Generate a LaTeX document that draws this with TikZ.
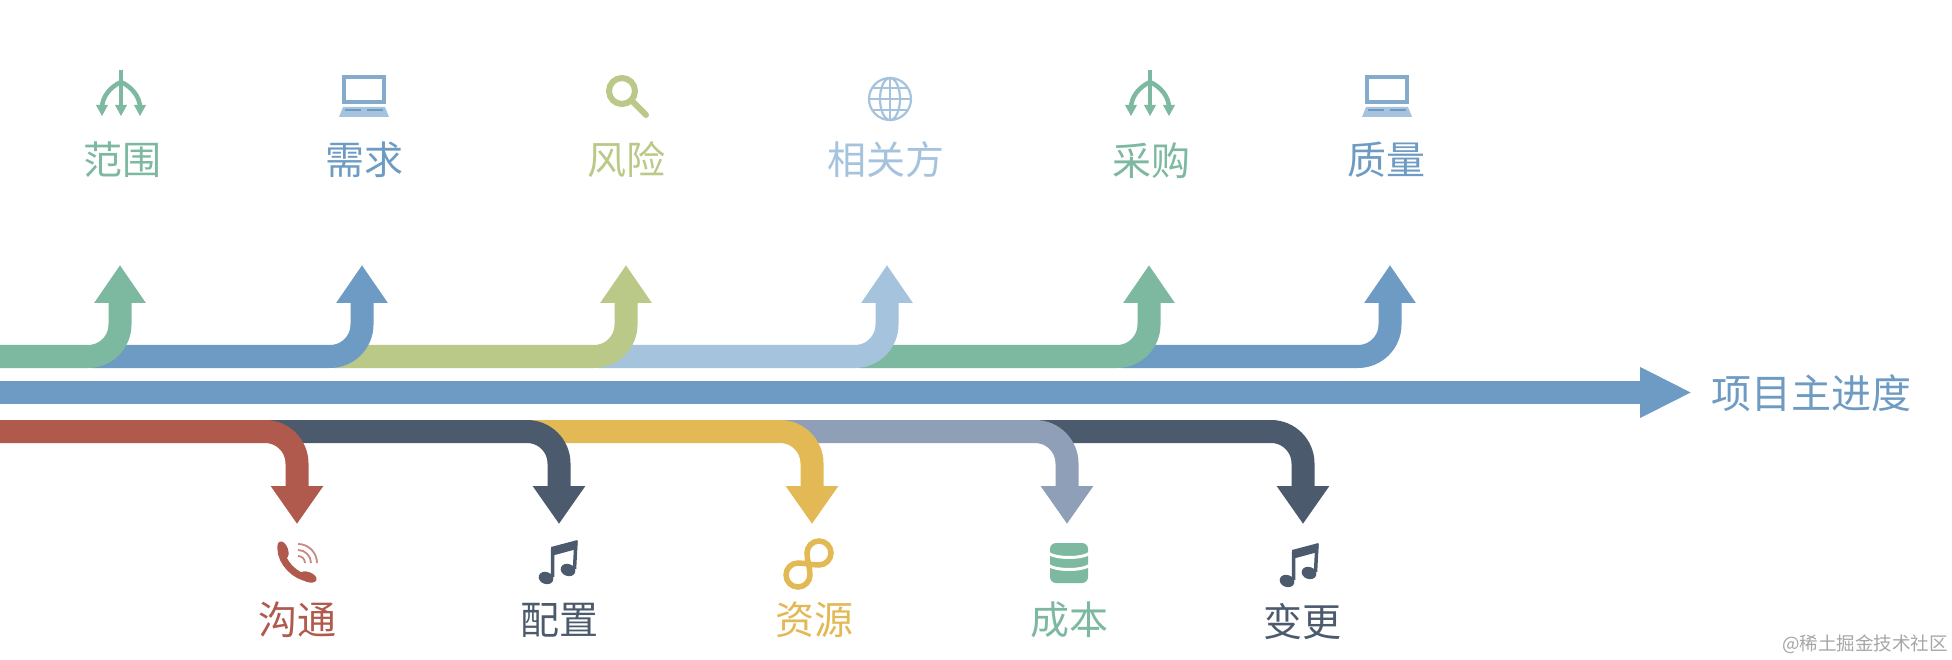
\documentclass[tikz,border=0pt]{standalone}
\usepackage{fontspec}
\usetikzlibrary{arrows.meta}
\newfontfamily\cjk{Noto Sans CJK SC}
\definecolor{cgreen}{HTML}{7DB8A0}
\definecolor{cblue}{HTML}{6E9BC3}
\definecolor{colive}{HTML}{BAC987}
\definecolor{clight}{HTML}{A5C3DD}
\definecolor{cred}{HTML}{B05A4E}
\definecolor{cdark}{HTML}{4C5A6E}
\definecolor{cyellow}{HTML}{E3B955}
\definecolor{cslate}{HTML}{8F9FB8}
\tikzset{
  uparrow/.style={line width=23pt,rounded corners=32pt,-{Triangle[length=38pt,width=49pt]}},
  downarrow/.style={line width=23pt,rounded corners=32pt,-{Triangle[length=38pt,width=50pt]}},
  mainarrow/.style={line width=23pt,-{Triangle[length=52pt,width=47pt]}},
  lab/.style={inner sep=0pt,font=\cjk\fontsize{39}{39}\selectfont},
  mainlab/.style={inner sep=0pt,font=\cjk\fontsize{40}{40}\selectfont},
  wmark/.style={inner sep=0pt,font=\cjk\fontsize{18.5}{19}\selectfont,text=black!35}
}
\newcommand\tridentIcon[2]{%
  \begin{scope}[shift={(#1,0)},draw=#2,fill=#2,line width=4.5pt]
    \draw (0,70)--(0,108);
    \draw (0,82) .. controls (-11,87) and (-19,97) .. (-19,108);
    \draw (0,82) .. controls (11,87) and (19,97) .. (19,108);
    \foreach \u in {-19,0,19}{\fill (\u-6,105)--(\u+6,105)--(\u,116)--cycle;}
  \end{scope}}
\newcommand\laptopIcon[3]{%
  \begin{scope}[shift={(#1,0)}]
    \draw[#2!85!white,line width=3.5pt] (-20,77) rectangle (20,102);
    \fill[#3] (-21,107)--(21,107)--(25,117)--(-25,117)--cycle;
    \draw[#2,line width=2pt] (-19,110)--(-3,110) (3,110)--(19,110);
  \end{scope}}
\newcommand\noteIcon[3]{%
  \begin{scope}[shift={(#1,#2)}]
    \fill[#3,rotate around={-20:(546,578)}] (546,578) ellipse (7.5 and 6);
    \fill[#3,rotate around={-20:(568,570)}] (568,570) ellipse (7.5 and 6);
    \draw[#3,line width=3.5pt] (552.5,577)--(552.5,549) (574.5,569)--(576,541);
    \fill[#3] (551,547)--(577.5,540)--(577,549)--(551,556)--cycle;
  \end{scope}}
\begin{document}
\begin{tikzpicture}[x=1pt,y=-1pt]
\useasboundingbox (0,0) rectangle (1952,660);
\fill[white] (0,0) rectangle (1952,660);
% upper branches: waypoints
\coordinate (us1) at (0,356.5);   \coordinate (uc1) at (120,356.5);  \coordinate (ut1) at (120,265);
\coordinate (us2) at (92,356.5);  \coordinate (uc2) at (362,356.5);  \coordinate (ut2) at (362,265);
\coordinate (us3) at (334,356.5); \coordinate (uc3) at (626,356.5);  \coordinate (ut3) at (626,265);
\coordinate (us4) at (598,356.5); \coordinate (uc4) at (887,356.5);  \coordinate (ut4) at (887,265);
\coordinate (us5) at (859,356.5); \coordinate (uc5) at (1149,356.5); \coordinate (ut5) at (1149,265);
\coordinate (us6) at (1121,356.5);\coordinate (uc6) at (1390,356.5); \coordinate (ut6) at (1390,265);
\draw[uparrow,cblue]  (us6)--(uc6)--(ut6);
\draw[uparrow,cgreen] (us5)--(uc5)--(ut5);
\draw[uparrow,clight] (us4)--(uc4)--(ut4);
\draw[uparrow,colive] (us3)--(uc3)--(ut3);
\draw[uparrow,cblue]  (us2)--(uc2)--(ut2);
\draw[uparrow,cgreen] (us1)--(uc1)--(ut1);
% main arrow
\coordinate (ms) at (0,392.5); \coordinate (mt) at (1692,392.5);
\draw[mainarrow,cblue] (ms)--(mt);
% lower branches: waypoints
\coordinate (ls1) at (0,431.5);   \coordinate (lc1) at (297,431.5);  \coordinate (lt1) at (297,524);
\coordinate (ls2) at (269,431.5); \coordinate (lc2) at (559,431.5);  \coordinate (lt2) at (559,524);
\coordinate (ls3) at (531,431.5); \coordinate (lc3) at (812,431.5);  \coordinate (lt3) at (812,524);
\coordinate (ls4) at (784,431.5); \coordinate (lc4) at (1067,431.5); \coordinate (lt4) at (1067,524);
\coordinate (ls5) at (1039,431.5);\coordinate (lc5) at (1303,431.5); \coordinate (lt5) at (1303,524);
\draw[downarrow,cdark]   (ls5)--(lc5)--(lt5);
\draw[downarrow,cslate]  (ls4)--(lc4)--(lt4);
\draw[downarrow,cyellow] (ls3)--(lc3)--(lt3);
\draw[downarrow,cdark]   (ls2)--(lc2)--(lt2);
\draw[downarrow,cred]    (ls1)--(lc1)--(lt1);
% labels
\node[lab,text=cgreen]  (fanwei)  at (122,160)  {范围};
\node[lab,text=cblue]   (xuqiu)   at (364,160)  {需求};
\node[lab,text=colive]  (fengxian) at (626.5,160) {风险};
\node[lab,text=clight]  (xiangguan) at (885.5,160) {相关方};
\node[lab,text=cgreen]  (caigou)  at (1151,161) {采购};
\node[lab,text=cblue]   (zhiliang) at (1386,160) {质量};
\node[mainlab,text=cblue] (main) at (1811,393) {项目主进度};
\node[lab,text=cred]    (goutong) at (297,620)  {沟通};
\node[lab,text=cdark]   (peizhi)  at (559,620)  {配置};
\node[lab,text=cyellow] (ziyuan)  at (814,620)  {资源};
\node[lab,text=cgreen]  (chengben) at (1069,620) {成本};
\node[lab,text=cdark]   (biangeng) at (1302,622) {变更};
\node[wmark] (wm) at (1865,644) {@稀土掘金技术社区};
% icons
\tridentIcon{121}{cgreen}
\tridentIcon{1150}{cgreen}
\laptopIcon{364}{cblue}{clight}
\laptopIcon{1387}{cblue}{clight}
% magnifier
\draw[colive,line width=6pt] (622,91) circle (13);
\draw[colive,line width=6pt,line cap=round] (632,101)--(646,115);
% globe
\begin{scope}[clight,line width=2.2pt]
  \draw (890,99) circle (21);
  \draw (890,99) ellipse (10 and 21);
  \draw (890,78)--(890,120) (869,99)--(911,99);
  \draw (872,88)--(908,88) (872,110)--(908,110);
\end{scope}
% phone
\draw[cred,line width=7pt,line cap=round] (281,549) .. controls (281,562) and (295,577) .. (309,578);
\fill[cred,rotate around={20:(283,550)}] (283,550) ellipse (5 and 9);
\fill[cred,rotate around={70:(308,577)}] (308,577) ellipse (5 and 9);
\begin{scope}[cred!70,line width=1.8pt]
  \draw (298,556) arc[start angle=-90,end angle=0,radius=7];
  \draw (298,550) arc[start angle=-90,end angle=0,radius=13];
  \draw (298,544) arc[start angle=-90,end angle=0,radius=19];
\end{scope}
% notes
\noteIcon{0}{0}{cdark}
\noteIcon{741}{3}{cdark}
% link
\draw[cyellow,line width=5.5pt] (819,565) .. controls (825.6,565) and (831,559.6) .. (831,553)
  .. controls (831,546.4) and (825.6,541) .. (819,541)
  .. controls (812.4,541) and (807,546.4) .. (807,553)
  .. controls (807,560) and (810,568) .. (810,575)
  .. controls (810,581.6) and (804.6,587) .. (798,587)
  .. controls (791.4,587) and (786,581.6) .. (786,575)
  .. controls (786,568.4) and (791.4,563) .. (798,563)
  .. controls (805,563) and (812,565) .. (819,565) -- cycle;
% database
\fill[cgreen,rounded corners=6pt] (1050,543) rectangle (1088,583);
\draw[white,line width=3pt] (1048,553) .. controls (1056,559) and (1082,559) .. (1090,553);
\draw[white,line width=3pt] (1048,565) .. controls (1056,571) and (1082,571) .. (1090,565);
\end{tikzpicture}
\end{document}
